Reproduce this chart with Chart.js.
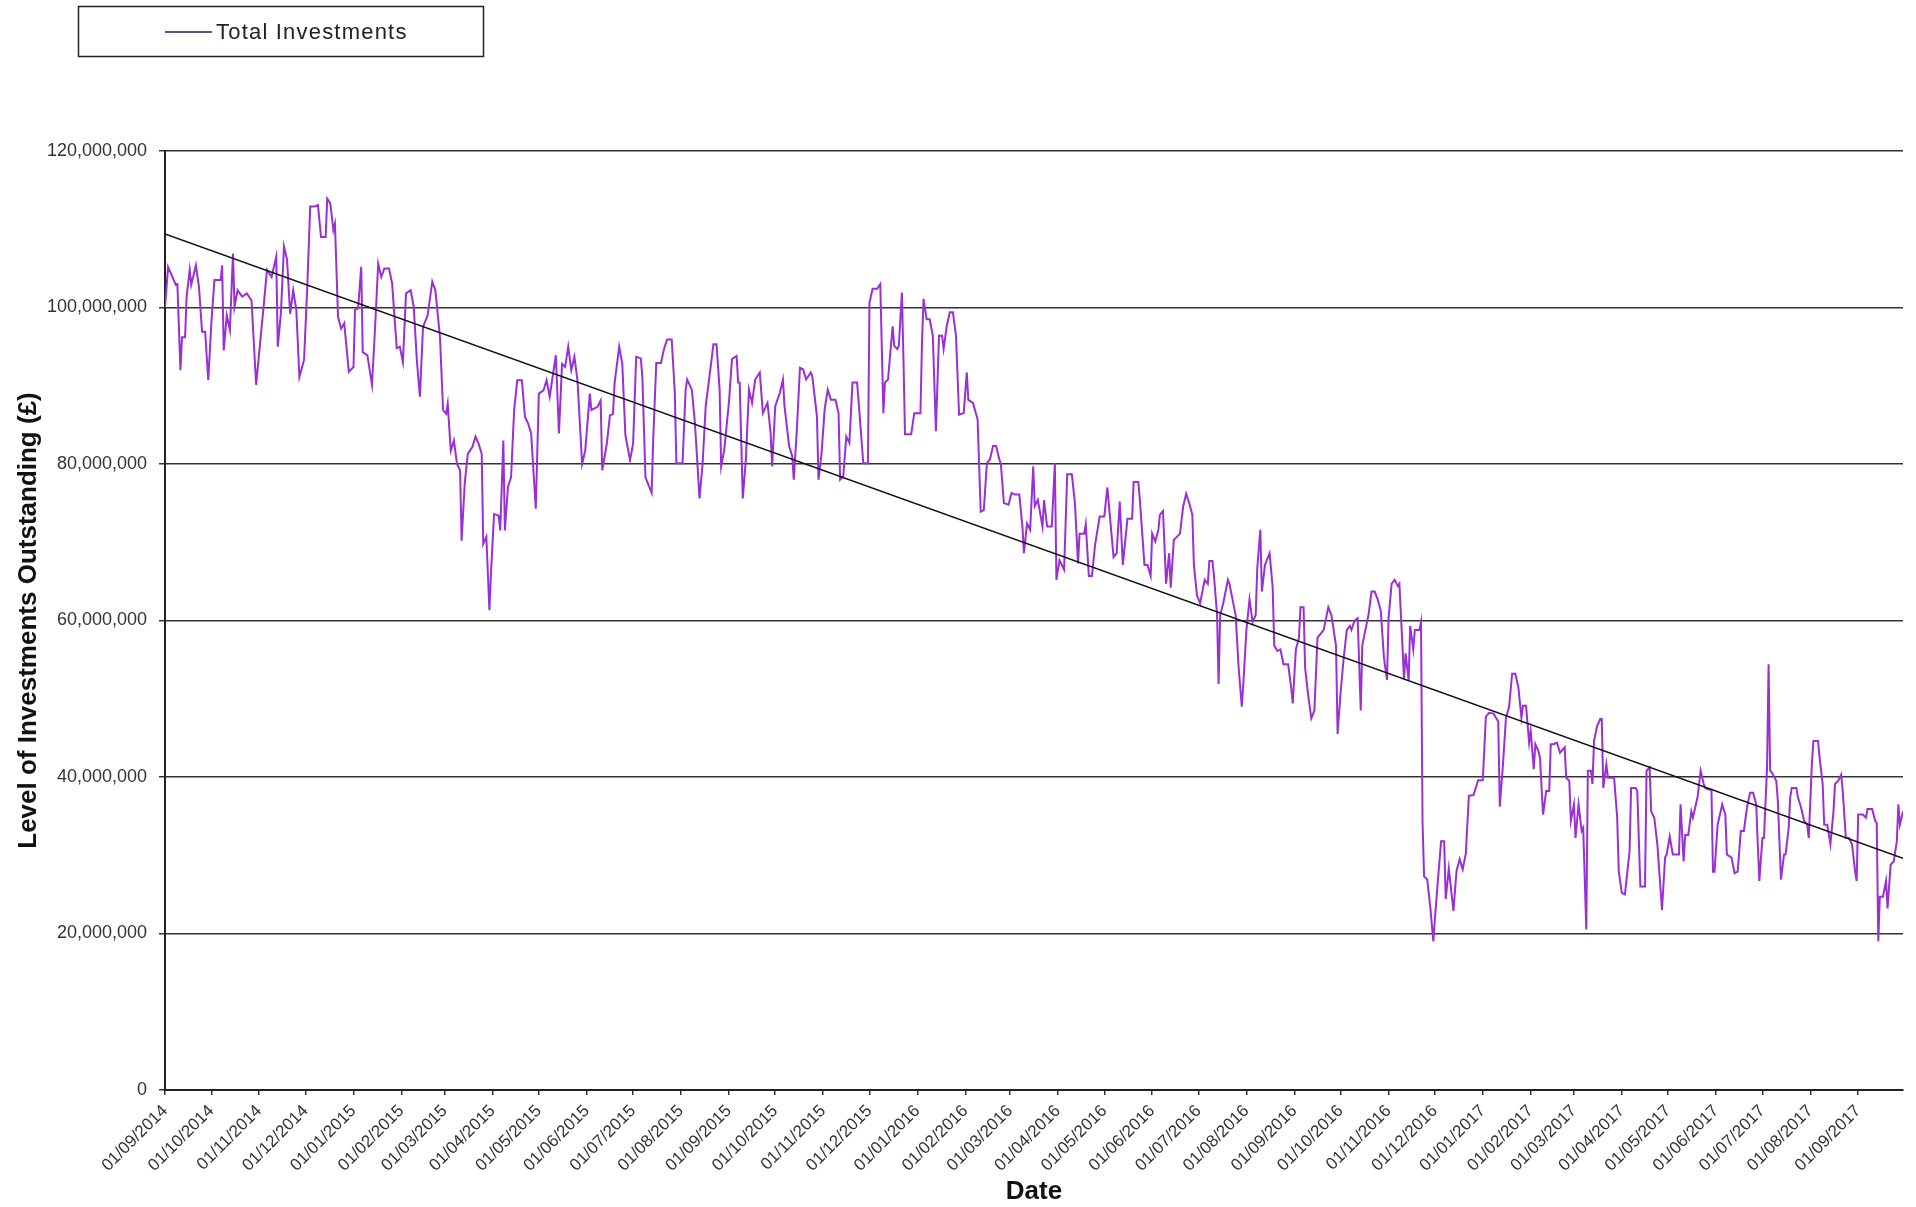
<!DOCTYPE html>
<html>
<head>
<meta charset="utf-8">
<title>Total Investments</title>
<script src="https://cdn.jsdelivr.net/npm/chart.js@4.4.0/dist/chart.umd.min.js"></script>
<style>
  html, body { margin: 0; padding: 0; background: #fff; }
  #wrap { position: relative; width: 1916px; height: 1207px; }
</style>
</head>
<body>
<div id="wrap"><canvas id="investChart" width="1916" height="1207"></canvas></div>
<script>
// Month labels along the date axis
const tickLabels = [
  '01/09/2014', '01/10/2014', '01/11/2014', '01/12/2014',
  '01/01/2015', '01/02/2015', '01/03/2015', '01/04/2015', '01/05/2015', '01/06/2015',
  '01/07/2015', '01/08/2015', '01/09/2015', '01/10/2015', '01/11/2015', '01/12/2015',
  '01/01/2016', '01/02/2016', '01/03/2016', '01/04/2016', '01/05/2016', '01/06/2016',
  '01/07/2016', '01/08/2016', '01/09/2016', '01/10/2016', '01/11/2016', '01/12/2016',
  '01/01/2017', '01/02/2017', '01/03/2017', '01/04/2017', '01/05/2017', '01/06/2017',
  '01/07/2017', '01/08/2017', '01/09/2017'
];

// Days since 01/09/2014 for each reading
const days = [
  0, 2, 7, 8, 10, 11, 13, 14, 16, 17,
  20, 22, 24, 26, 28, 30, 32, 36, 37, 38,
  40, 42, 44, 45, 47, 50, 53, 56, 59, 61,
  64, 66, 69, 72, 73, 75, 77, 79, 81, 83,
  85, 87, 90, 92, 94, 97, 99, 101, 104, 105,
  107, 109, 110, 112, 114, 116, 119, 122, 123, 125,
  127, 128, 131, 134, 136, 138, 140, 142, 145, 147,
  150, 152, 154, 156, 159, 161, 163, 165, 167, 170,
  173, 175, 178, 180, 182, 183, 185, 187, 189, 191,
  192, 194, 196, 199, 201, 203, 205, 206, 208, 210,
  211, 213, 216, 217, 219, 220, 222, 224, 226, 228,
  231, 233, 235, 237, 240, 242, 245, 247, 249, 253,
  255, 257, 259, 261, 263, 265, 267, 270, 272, 275,
  276, 280, 282, 283, 286, 288, 290, 291, 294, 296,
  298, 301, 303, 305, 308, 309, 311,
  315, 316, 318, 321, 323, 325, 328, 330, 331, 335,
  337, 338, 341, 343, 346, 348, 350, 353, 355, 357,
  359, 360, 362, 365, 367, 370, 371, 372, 374, 376,
  378, 380, 382, 385, 387, 390, 392, 393, 395, 398,
  400, 401, 404, 406, 407, 409, 411, 413, 415, 418,
  419, 422, 423, 425, 427, 429, 431, 434, 436, 437,
  439, 441, 443, 445, 448, 450, 452, 455, 456, 458,
  461, 463, 465, 466, 468, 471, 472, 474, 475, 477,
  478, 479, 483, 485, 489, 490, 491, 493, 495, 497,
  499, 501, 503, 504, 506, 508, 510, 512, 514, 517,
  519, 520, 523, 526, 528, 530, 532, 534, 536, 538,
  540, 541, 543, 546, 548, 550, 553, 555, 556, 558,
  560, 562, 563, 565, 568, 569, 571, 574, 576, 577,
  579, 582, 584, 587, 589, 591, 592, 595, 596, 598,
  600, 602, 605,
  608, 610, 612, 614, 616, 618, 620, 623, 626, 627,
  630, 631, 634, 636, 638, 639, 641, 643, 644, 646,
  648, 650, 651, 653, 657, 659, 661, 663, 665, 666,
  668, 670, 673, 675, 676, 678, 679, 681, 682, 683,
  685, 688, 689, 691, 693, 695, 697, 698, 700, 702,
  704, 706, 707, 709, 710, 712, 715, 717, 718, 720,
  722, 724, 727, 729, 730, 732, 734, 735, 737, 738,
  740, 742, 744, 746, 748, 750, 753, 755, 758, 759,
  761, 763, 765, 767, 768, 770, 772, 773, 774, 775,
  777, 779, 781, 783, 785, 787, 789, 791, 792, 794,
  796, 798, 799, 801, 802, 803, 805, 806, 808, 809,
  812, 813, 814, 815, 817, 819, 821, 822, 824, 826,
  828, 829, 831, 832, 834, 836, 838, 840, 842, 844,
  847, 850, 853, 855, 857, 860, 863, 864, 866, 868,
  870, 872, 874, 876, 878, 879, 881, 883, 884, 886,
  887, 889, 890, 892, 894, 896, 897, 899, 901, 903,
  906, 907, 909, 910, 912, 913, 915, 917, 918, 920,
  921, 923, 924, 925, 927, 929, 930, 931, 933, 934,
  938, 940, 941, 943, 945, 948, 949, 952, 953, 955,
  958, 959, 961, 962, 964, 966, 969, 971, 972, 974,
  976, 980, 981, 983, 984, 986, 988, 989, 992, 994,
  996, 997, 999, 1001, 1002, 1003, 1005, 1008, 1010, 1011,
  1014, 1016, 1018, 1020, 1022, 1024, 1026, 1028, 1030, 1031,
  1032, 1034, 1035, 1037, 1038, 1039, 1040, 1043, 1044, 1046,
  1048, 1049, 1051, 1052, 1053, 1056, 1057, 1059, 1061, 1063,
  1064, 1066, 1067, 1070, 1071, 1073, 1074, 1076, 1078, 1080,
  1081, 1083, 1085, 1086, 1088, 1090, 1092, 1094, 1095, 1096,
  1099, 1101, 1102, 1105, 1107, 1108, 1109, 1110, 1112, 1114,
  1115, 1117, 1119, 1121, 1122, 1123, 1125
];

// Total investments outstanding, in £ millions
const investments = [
  100, 105.2, 102.9, 103, 92, 96.2, 96.2, 101.4, 104.8, 102.9,
  105.4, 102.6, 96.9, 96.9, 90.7, 98, 103.5, 103.5, 105.4, 94.5,
  99, 97.1, 106.9, 100.1, 102.2, 101.4, 101.8, 100.9, 90.1, 94.3,
  100.5, 104.8, 103.9, 106.5, 95, 99.2, 107.8, 106.1, 99.2, 102.2,
  99.7, 91.1, 93.3, 102.2, 112.9, 112.9, 113.1, 109, 109, 113.9,
  113.3, 109.9, 110.7, 98.8, 97.3, 98, 91.8, 92.4, 99.7, 99.9,
  105.2, 94.3, 93.9, 90.1, 97.5, 105.6, 103.9, 105, 105, 103.1,
  94.8, 95, 93, 101.8, 102.2, 100.1, 93.3, 88.6, 97.5, 99,
  103.3, 102.2, 96.2, 86.9, 86.4, 87.7, 81.7, 83, 80, 79.2,
  70.2, 77.5, 81.3, 82.2, 83.5, 82.6, 81.3, 69.8, 70.7, 61.3,
  66, 73.6, 73.4, 71.5, 83, 71.5, 77.1, 78.3, 86.9, 90.7,
  90.7, 86, 85.2, 83.9, 74.3, 89, 89.4, 90.7, 88.6, 93.9,
  83.9, 92.8, 92.4, 95, 92, 93.7, 90.7, 80, 81.7, 89,
  86.9, 87.3, 88.1, 79.2, 82.6, 86.2, 86.4, 90.3, 95, 92.8,
  83.7, 80.5, 82.6, 93.7, 93.5, 91.1, 78.3,
  76.3, 83.1, 92.9, 92.9, 94.7, 95.9, 95.9, 89.1, 80.1, 80.1,
  89.5, 90.8, 89.5, 85.3, 75.6, 80.1, 87.4, 92.1, 95.3, 95.3,
  89.5, 79.7, 81.8, 87.8, 93.4, 93.8, 90.4, 90.4, 75.6, 80.6,
  89.5, 87.8, 90.8, 91.7, 86.5, 87.8, 84, 79.7, 87.4, 89.1,
  90.8, 87.4, 82.3, 81, 78, 84.4, 92.3, 92.1, 90.8, 91.7,
  91.2, 86.1, 78, 81.4, 87, 89.5, 88.2, 88.2, 86.5, 78,
  78.4, 83.5, 82.7, 90.4, 90.4, 85.3, 80.1, 80.1, 100.6, 102.4,
  102.4, 103, 86.5, 90.4, 90.8, 97.6, 95.1, 94.7, 95.1, 101.9,
  93.4, 83.8, 83.8, 86.5, 86.5, 95.5, 101.1, 98.5, 98.5, 96.4,
  84.2, 96.4, 96.4, 94.7, 97.6, 99.4, 99.4, 96.4, 86.3, 86.5,
  91.7, 88.2, 87.8, 85.7, 73.9, 74.1, 80.1, 80.6, 82.3, 82.3,
  80.6, 80.1, 75, 74.8, 76.3, 76.1, 76.1, 72, 68.6, 72.4,
  71.6, 79.7, 74.6, 75.4, 72, 75.4, 72, 72, 80.1, 65.2,
  67.7, 66.5, 78.7, 78.7, 75, 67.3, 71.1, 71.1, 72.3, 65.7,
  65.7, 69.6, 73.3,
  73.3, 77, 72.5, 68.1, 68.6, 75.2, 67.1, 73, 73, 77.7,
  77.7, 75.5, 67.1, 67.1, 65.7, 71.1, 70.1, 71.6, 73.5, 74,
  64.7, 68.6, 64.2, 70.3, 71.1, 74.5, 76.2, 75, 73.5, 67.1,
  63.2, 62.2, 65.2, 64.7, 67.6, 67.6, 65.7, 60.7, 51.9, 60.7,
  62.2, 65.2, 64.7, 62.7, 60.7, 53.9, 49, 51.9, 58.8, 62.7,
  59.8, 60.7, 66.6, 71.6, 63.7, 67.1, 68.6, 64.2, 56.8, 56.1,
  56.3, 54.4, 54.4, 51.4, 49.4, 56.3, 57.8, 61.7, 61.7, 53.9,
  50.4, 47.5, 48.5, 57.8, 58.3, 58.8, 61.7, 60.7, 56.8, 45.5,
  50.9, 55.3, 58.8, 59.3, 58.8, 60, 60.3, 54.4, 48.5, 56.8,
  58.8, 60.7, 63.7, 63.7, 62.7, 61.2, 55.3, 52.4, 60.3, 64.7,
  65.2, 64.4, 64.7, 56.8, 52.4, 55.8, 52.4, 59.3, 56.3, 58.8,
  58.8, 59.8, 34.2, 27.3, 26.9, 23.4, 19, 21.9, 26.9, 31.8,
  31.8, 24.4, 28.3, 26.5, 22.9, 28, 29.5, 28.2, 30.2, 37.6,
  37.7, 39.6, 39.6, 47.7, 48.2, 48.1, 47.1, 36.2, 41.4, 47.6,
  48.9, 53.2, 53.2, 51.5, 47.6, 49.1, 49.1, 44.4, 45.9, 41,
  44.2, 43.3, 42.5, 35.2, 38.2, 38.2, 44.2, 44.2, 44.4, 43.1,
  43.8, 39.9, 39.5, 34.4, 36.5, 32.2, 36.5, 33.1, 33.5, 20.5,
  40.8, 40.8, 39.1, 44.6, 46.5, 47.4, 47.4, 38.6, 41.6, 39.9,
  39.9, 34.8, 27.9, 25.2, 25, 30.5, 38.6, 38.6, 38.2, 26,
  26, 40.8, 41.2, 35.6, 34.8, 31.4, 23, 29.7, 30.1, 32.4,
  30.1, 30.1, 36.5, 29.2, 32.6, 32.6, 35.6, 34.8, 37.4, 40.8,
  39.1, 38.6, 38.4, 38.4, 27.9, 27.9, 33.9, 36.5, 35.2, 30.1,
  29.7, 27.7, 27.9, 33.1, 33.1, 36.1, 38, 38, 36.5, 31.4,
  26.7, 32.2, 32.2, 41.2, 54.4, 40.8, 40.6, 39.5, 36.9, 26.9,
  30.1, 30.1, 33.5, 37.4, 38.6, 38.6, 37.4, 36.1, 34.4, 33.9,
  32.2, 41.6, 44.6, 44.6, 42.5, 39.1, 33.9, 33.9, 31.4, 35.6,
  39.1, 39.5, 40.3, 38.2, 32.2, 32.2, 31.4, 27.9, 26.7, 35.2,
  35.2, 34.8, 35.9, 35.9, 34.4, 34.1, 19, 24.7, 24.7, 26.7,
  23.2, 28.8, 29.2, 31.8, 36.5, 33.9, 35.6
];

// Linear trend line ends (days, £ millions)
const trendDays = [0, 1125];
const trendValues = [109.4, 29.6];

const FONT = "'Liberation Sans', Arial, sans-serif";
const startUTC = Date.UTC(2014, 8, 1);

function dayOf(label) {
    const [d, m, y] = label.split('/').map(Number);
    return (Date.UTC(y, m - 1, d) - startUTC) / 86400000;
}
const tickDays = tickLabels.map(dayOf);

// Boxed legend in the top left corner
const boxLegend = {
    id: 'boxLegend',
    afterDraw(chart) {
        const ctx = chart.ctx;
        ctx.save();
        ctx.strokeStyle = '#222';
        ctx.lineWidth = 1.5;
        ctx.strokeRect(78.5, 6.5, 405, 50);
        ctx.strokeStyle = '#1c1c66';
        ctx.lineWidth = 1.5;
        ctx.beginPath();
        ctx.moveTo(165, 32);
        ctx.lineTo(212, 32);
        ctx.stroke();
        ctx.fillStyle = '#222';
        ctx.font = '22px ' + FONT;
        ctx.letterSpacing = '1.2px';
        ctx.textBaseline = 'middle';
        ctx.fillText(chart.data.datasets[0].label, 216, 33);
        ctx.restore();
    }
};

const ctx = document.getElementById('investChart').getContext('2d');

new Chart(ctx, {
    type: 'line',
    data: {
        datasets: [{
            label: 'Total Investments',
            data: days.map((d, i) => ({ x: d, y: investments[i] * 1e6 })),
            borderColor: '#9a2fd6',
            borderWidth: 2,
            pointRadius: 0,
            tension: 0,
            order: 1
        }, {
            label: 'Trend',
            data: trendDays.map((d, i) => ({ x: d, y: trendValues[i] * 1e6 })),
            borderColor: '#111',
            borderWidth: 1.5,
            pointRadius: 0,
            order: 0
        }]
    },
    options: {
        responsive: false,
        animation: false,
        devicePixelRatio: 1,
        layout: { padding: { top: 151, right: 13, bottom: 0, left: 0 } },
        plugins: {
            legend: { display: false },
            tooltip: { enabled: false }
        },
        scales: {
            x: {
                type: 'linear',
                min: 0,
                max: 1125,
                afterBuildTicks: scale => { scale.ticks = tickDays.map(v => ({ value: v })); },
                afterFit: scale => { scale.height = 117; },
                ticks: {
                    autoSkip: false,
                    minRotation: 45,
                    maxRotation: 45,
                    padding: 6,
                    color: '#333',
                    font: { family: FONT, size: 17 },
                    callback: (value, index) => tickLabels[index]
                },
                grid: { drawOnChartArea: false, tickLength: 5, color: '#333', lineWidth: 1.5 },
                border: { color: '#222', width: 2 },
                title: {
                    display: true,
                    text: 'Date',
                    color: '#111',
                    font: { family: FONT, size: 26, weight: 'bold' },
                    padding: { top: 0, bottom: 0 }
                }
            },
            y: {
                min: 0,
                max: 120000000,
                afterFit: scale => { scale.width = 165; },
                ticks: {
                    stepSize: 20000000,
                    padding: 12,
                    color: '#333',
                    font: { family: FONT, size: 18 },
                    callback: value => value.toLocaleString('en-GB')
                },
                grid: { color: '#333', lineWidth: 1.5, tickLength: 6 },
                border: { color: '#222', width: 2 },
                title: {
                    display: true,
                    text: 'Level of Investments Outstanding (£)',
                    color: '#111',
                    font: { family: FONT, size: 26, weight: 'bold' },
                    padding: { top: 13, bottom: 0 }
                }
            }
        }
    },
    plugins: [boxLegend]
});
</script>
</body>
</html>
